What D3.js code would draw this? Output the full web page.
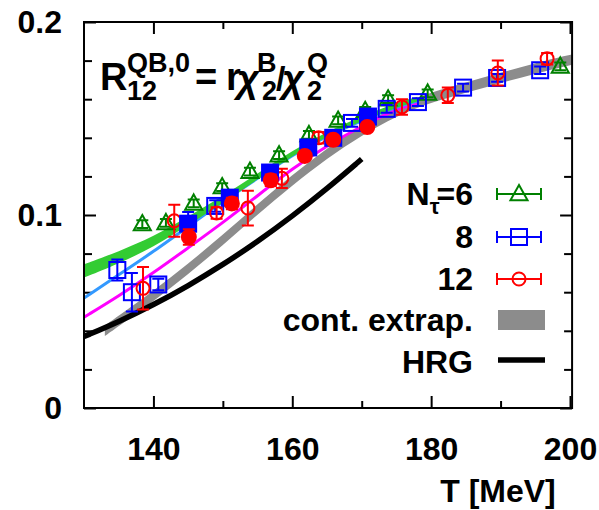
<!DOCTYPE html>
<html>
<head>
<meta charset="utf-8">
<script src="https://d3js.org/d3.v7.min.js"></script>
<style>
body { margin: 0; background: #fff; }
text { font-family: "Liberation Sans", Arial, sans-serif; font-weight: bold; fill: #000; }
.tick line { stroke: #000; stroke-width: 2px; }
</style>
</head>
<body>
<svg width="599" height="510"></svg>
<script>
// N_tau = 6 (open triangles)
const T6 = [138.4, 141.8, 145.8, 149.9, 153.9, 158.1, 162.4, 166.6, 170.5, 173.8, 179.5, 198.6];
const v6 = [0.0953, 0.0959, 0.106, 0.1145, 0.1225, 0.131, 0.1415, 0.149, 0.154, 0.160, 0.163, 0.177];
const e6 = [0.002, 0.002, 0.002, 0.002, 0.002, 0.002, 0.002, 0.002, 0.002, 0.002, 0.002, 0.002];
// N_tau = 8 (open squares)
const T8 = [134.8, 136.9, 140.7, 148.9, 168.6, 173.6, 178.1, 184.6, 189.5, 195.7];
const v8 = [0.0715, 0.060, 0.064, 0.1047, 0.1477, 0.155, 0.1585, 0.166, 0.171, 0.175];
const e8 = [0.0055, 0.010, 0.003, 0.003, 0.002, 0.002, 0.002, 0.002, 0.002, 0.002];
// N_tau = 12 (open circles)
const T12 = [138.5, 143.0, 149.1, 153.6, 158.5, 163.8, 175.8, 182.4, 189.6, 196.7];
const v12 = [0.062, 0.097, 0.101, 0.1036, 0.119, 0.140, 0.156, 0.162, 0.1736, 0.181];
const e12 = [0.011, 0.0083, 0.003, 0.009, 0.005, 0.003, 0.004, 0.004, 0.0065, 0.003];
// filled points
const Tf8 = [145.0, 151.0, 156.8, 162.3, 165.9, 170.9];
const vf8 = [0.0955, 0.109, 0.122, 0.135, 0.140, 0.151];
const ef8 = [0.006, 0.003, 0.003, 0.002, 0.002, 0.002];
const Tf12 = [145.1, 151.3, 156.9, 161.8, 165.9, 170.8];
const vf12 = [0.0886, 0.106, 0.118, 0.1306, 0.139, 0.1456];
const ef12 = [0.004, 0.003, 0.003, 0.002, 0.002, 0.002];

// curves
const lineT = [130, 135, 140, 145, 150, 155, 160, 165, 170, 175, 178];
const green = [0.071, 0.078, 0.086, 0.097, 0.108, 0.120, 0.132, 0.142, 0.150, 0.157, 0.160];
const greenW = [0.0028, 0.0025, 0.0021, 0.0016, 0.0012, 0.0009, 0.0007, 0.0006, 0.0006, 0.0006, 0.0006];
const blue = [0.057, 0.069, 0.081, 0.094, 0.107, 0.119, 0.131, 0.141, 0.149, 0.156, 0.159];
const magenta = [0.047, 0.058, 0.070, 0.083, 0.096, 0.110, 0.124, 0.136, 0.146, 0.155, 0.158];
const grayT = [133, 135, 140, 145, 150, 155, 160, 165, 170, 175, 180, 185, 190, 195, 200.3];
const gray = [0.040, 0.045, 0.058, 0.072, 0.087, 0.103, 0.118, 0.132, 0.144, 0.154, 0.161, 0.166, 0.171, 0.176, 0.1805];
const hrgT = [130, 135, 140, 145, 150, 155, 160, 165, 170];
const hrg = [0.037, 0.0447, 0.0534, 0.0633, 0.0742, 0.0862, 0.0994, 0.1136, 0.129];

const xMajor = [140, 160, 180, 200], xMinor = [150, 170, 190];
const yMajor = [0, 0.1, 0.2], yMinor = [0.02, 0.04, 0.06, 0.08, 0.12, 0.14, 0.16, 0.18];
const legendLabels = ["8", "12", "cont. extrap.", "HRG"];

const FS = 32;
const svg = d3.select("svg");
const x = d3.scaleLinear().domain([130, 200]).range([84, 570]);
const y = d3.scaleLinear().domain([0, 0.2]).range([408, 22]);
const X0 = x(130), X1 = x(200.3), Y0 = y(0), Y1 = y(0.2);

svg.append("defs").append("clipPath").attr("id", "clip")
  .append("rect").attr("x", X0).attr("y", Y1).attr("width", X1 - X0).attr("height", Y0 - Y1);

// axes (ticks inward, mirrored)
function axis(gen, vals, size, tr, fmt, pad) {
  const g = svg.append("g").attr("transform", tr)
    .call(gen.tickValues(vals).tickSize(size).tickPadding(pad || 3).tickFormat(fmt || ""));
  g.select(".domain").remove();
  g.selectAll("text").attr("font-size", FS);
  return g;
}
const yfmt = d => d === 0 ? "0" : d.toFixed(1);
axis(d3.axisBottom(x), xMajor, -12, `translate(0,${Y0})`, d3.format("d"), 29);
axis(d3.axisBottom(x), xMinor, -7, `translate(0,${Y0})`);
axis(d3.axisTop(x), xMajor, -12, `translate(0,${Y1})`);
axis(d3.axisTop(x), xMinor, -7, `translate(0,${Y1})`);
axis(d3.axisLeft(y), yMajor, -12, `translate(${X0},0)`, yfmt, 22);
axis(d3.axisLeft(y), yMinor, -8, `translate(${X0},0)`);
axis(d3.axisRight(y), yMajor, -12, `translate(${X1},0)`);
axis(d3.axisRight(y), yMinor, -8, `translate(${X1},0)`);

const plot = svg.append("g").attr("clip-path", "url(#clip)");
const line = d3.line().x(d => x(d[0])).y(d => y(d[1])).curve(d3.curveBasis);

// continuum band
plot.append("path")
  .datum(grayT.map((t, i) => [t, gray[i]]))
  .attr("d", d3.area().x(d => x(d[0])).y0(d => y(d[1] - 0.0027)).y1(d => y(d[1] + 0.0027)).curve(d3.curveBasis))
  .attr("fill", "#8c8c8c");
// HRG
plot.append("path")
  .datum(hrgT.map((t, i) => [t, hrg[i]]))
  .attr("d", line)
  .attr("fill", "none").attr("stroke", "#000").attr("stroke-width", 5.5);
// fits
plot.append("path")
  .datum(lineT.map((t, i) => [t, magenta[i]]))
  .attr("d", line)
  .attr("fill", "none").attr("stroke", "#ff00ff").attr("stroke-width", 3);
plot.append("path")
  .datum(lineT.map((t, i) => [t, blue[i]]))
  .attr("d", line)
  .attr("fill", "none").attr("stroke", "#3399ff").attr("stroke-width", 3);
plot.append("path")
  .datum(lineT.map((t, i) => [t, green[i], greenW[i]]))
  .attr("d", d3.area().x(d => x(d[0])).y0(d => y(d[1] - d[2]) + 1.2).y1(d => y(d[1] + d[2]) - 1.2).curve(d3.curveBasis))
  .attr("fill", "#33cc33");

// markers
const tri = s => `M0,${-s}L${s * 0.95},${s * 0.7}L${-s * 0.95},${s * 0.7}Z`;
function series(Ts, vs, es, color, shape, filled) {
  const pts = Ts.map((t, i) => ({ t, v: vs[i], e: es[i] }));
  const g = plot.append("g").attr("stroke", color).attr("stroke-width", 2);
  pts.forEach(p => {
    const cx = x(p.t), lo = y(p.v - p.e), hi = y(p.v + p.e);
    g.append("path").attr("fill", "none")
      .attr("d", `M${cx},${lo}V${hi}M${cx - 6},${lo}H${cx + 6}M${cx - 6},${hi}H${cx + 6}`);
  });
  pts.forEach(p => drawMarker(g, x(p.t), y(p.v), shape, color, filled));
}
function drawMarker(g, cx, cy, shape, color, filled) {
  const fill = filled ? color : "none";
  if (shape === "tri") g.append("path").attr("d", tri(9)).attr("transform", `translate(${cx},${cy})`).attr("fill", fill);
  if (shape === "sq") g.append("rect").attr("x", cx - 8).attr("y", cy - 8).attr("width", 16).attr("height", 16).attr("fill", fill);
  if (shape === "circ") g.append("circle").attr("cx", cx).attr("cy", cy).attr("r", filled ? 7 : 6.5).attr("fill", fill);
}
series(T6, v6, e6, "#008000", "tri", false);
series(T8, v8, e8, "#0000ff", "sq", false);
series(T12, v12, e12, "#ff0000", "circ", false);
series(Tf8, vf8, ef8, "#0000ff", "sq", true);
series(Tf12, vf12, ef12, "#ff0000", "circ", true);

// frame
svg.append("rect").attr("x", X0).attr("y", Y1).attr("width", X1 - X0).attr("height", Y0 - Y1)
  .attr("fill", "none").attr("stroke", "#000").attr("stroke-width", 2);

// axis title
svg.append("text").attr("x", 498).attr("y", 502).attr("text-anchor", "middle").attr("font-size", FS).text("T [MeV]");

// formula, one text with positioned pieces
const f = svg.append("text").attr("x", 100).attr("y", 90).attr("font-size", 38);
const put = (tx, ty, s, txt, it) => f.append("tspan").attr("x", tx).attr("y", ty).attr("font-size", s)
  .attr("font-style", it ? "italic" : null).text(txt);
put(100, 90, 38, "R");
put(127, 72, 27, "QB,0");
put(127, 100, 27, "12");
put(195, 90, 38, "=");
put(226, 90, 38, "r");
put(237, 92, 38, "χ", true);
put(262, 100, 27, "2");
put(257, 72, 27, "B");
put(276, 90, 34, "/");
put(282, 92, 38, "χ", true);
put(307, 100, 27, "2");
put(307, 72, 27, "Q");

// legend
const LX = 473, L0 = 497, L1 = 541;
const rows = [205, 248, 290, 331, 373];
const lt = svg.append("text").attr("x", LX).attr("y", rows[0]).attr("text-anchor", "end").attr("font-size", FS);
lt.append("tspan").text("N");
lt.append("tspan").attr("font-size", 22).attr("dy", 9).text("τ");
lt.append("tspan").attr("dy", -9).attr("dx", -3).text("=6");
legendLabels.forEach((s, i) => svg.append("text").attr("x", LX).attr("y", rows[i + 1])
  .attr("text-anchor", "end").attr("font-size", FS).text(s));
[["#008000", "tri"], ["#0000ff", "sq"], ["#ff0000", "circ"]].forEach((d, i) => {
  const cy = rows[i] - 11;
  const g = svg.append("g").attr("stroke", d[0]).attr("stroke-width", 2);
  g.append("path").attr("fill", "none")
    .attr("d", `M${L0},${cy}H${L1}M${L0},${cy - 6}V${cy + 6}M${L1},${cy - 6}V${cy + 6}`);
  drawMarker(g, (L0 + L1) / 2, cy, d[1], d[0], false);
});
svg.append("rect").attr("x", L0 + 1).attr("y", rows[3] - 21).attr("width", L1 - L0 + 3).attr("height", 20).attr("fill", "#8c8c8c");
svg.append("path").attr("d", `M${L0 + 1},${rows[4] - 13}H${L1 + 4}`).attr("stroke", "#000").attr("stroke-width", 5.5);
</script>
</body>
</html>
